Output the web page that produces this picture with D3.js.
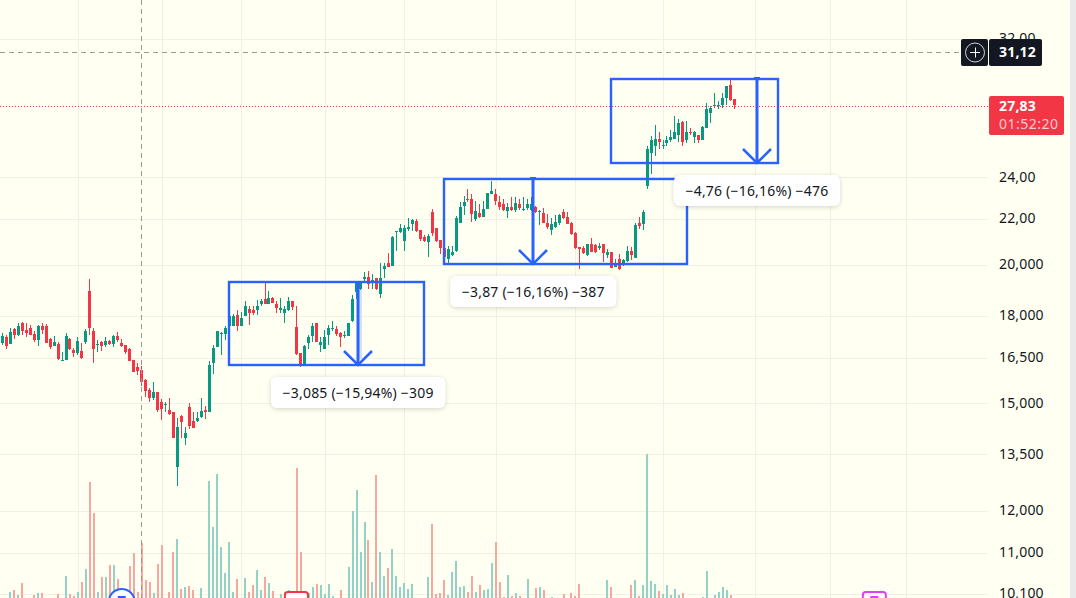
<!DOCTYPE html>
<html><head><meta charset="utf-8">
<style>html,body{margin:0;padding:0;background:#fffff2;overflow:hidden}svg{display:block}text{font-family:"Noto Sans",Roboto,sans-serif}</style>
<script src="https://d3js.org/d3.v7.min.js"></script></head><body><div id="c"></div>
<script>
const opens=[16.99,17.20,16.96,17.50,17.28,17.72,17.46,17.53,17.31,17.10,17.60,17.60,17.13,16.89,16.96,16.37,16.40,17.13,16.75,16.64,16.71,17.03,18.94,17.42,16.92,17.03,16.92,17.06,16.96,17.24,16.99,16.92,16.78,16.40,16.17,16.07,15.74,15.41,15.16,15.35,15.03,14.94,14.78,14.72,13.13,14.60,13.94,14.88,14.45,14.45,14.57,14.78,14.72,16.30,16.85,17.31,17.31,17.60,17.60,18.01,17.60,17.98,18.24,18.20,18.20,18.43,18.63,18.43,18.66,18.43,18.20,18.09,18.20,18.55,17.57,16.64,16.27,16.99,17.24,17.72,16.92,16.78,17.28,17.50,17.50,17.35,17.24,17.24,17.79,18.90,19.01,19.41,19.49,19.33,19.45,18.82,19.82,20.07,19.95,21.41,21.41,21.01,21.54,21.76,21.90,21.49,21.19,20.97,22.31,21.58,21.05,20.71,20.24,20.41,20.58,21.81,22.59,22.92,22.92,21.99,22.27,22.08,22.45,23.16,23.16,22.78,22.69,22.36,22.55,22.41,22.69,22.41,22.50,22.41,22.55,22.31,22.27,21.81,21.49,21.63,21.81,22.31,22.08,21.81,21.36,20.75,20.71,20.41,20.88,20.84,20.71,20.88,20.41,20.54,19.90,20.24,19.99,20.15,20.58,20.28,21.81,21.76,23.55,25.23,25.60,25.97,25.55,25.71,25.87,25.97,26.19,26.90,25.87,26.35,26.08,26.19,25.87,26.57,27.41,27.76,27.76,27.87,28.28,29.00,28.22];
const highs=[17.35,17.28,17.53,17.53,17.72,17.75,17.72,17.64,17.42,17.64,17.72,17.68,17.17,17.24,17.03,16.68,17.35,17.17,16.82,17.20,16.99,17.50,19.41,17.53,17.10,17.06,17.20,17.10,17.28,17.38,17.13,16.92,16.82,16.40,16.30,16.20,15.77,15.48,15.67,15.35,15.13,15.03,15.16,14.72,14.54,14.63,14.27,15.00,14.72,14.72,15.16,14.91,16.37,16.92,17.42,17.38,17.60,18.09,18.05,18.20,18.12,18.55,18.35,18.35,18.59,18.63,19.29,18.94,18.70,18.55,18.66,18.35,18.70,18.55,18.35,16.64,16.92,17.28,17.72,17.72,17.20,17.46,17.64,17.79,17.60,17.38,17.42,17.72,18.78,19.33,19.33,19.70,19.74,19.62,19.45,20.07,20.07,20.50,21.23,21.45,21.76,21.72,22.04,21.99,21.99,21.49,21.27,21.32,22.45,21.58,21.05,20.79,20.79,20.79,22.13,22.78,23.07,23.40,23.16,22.83,22.69,22.83,23.21,23.80,23.40,23.07,22.92,22.74,23.02,23.02,22.92,23.02,22.92,23.02,22.59,22.41,22.50,22.22,22.04,22.17,22.22,22.45,22.31,21.86,21.41,20.75,20.79,20.88,21.14,20.88,20.92,20.88,20.67,20.54,20.24,20.45,20.24,20.79,20.75,21.81,22.08,22.41,25.60,26.13,26.74,26.35,25.87,26.13,26.46,27.19,27.07,26.96,26.96,26.57,26.41,26.19,26.68,27.99,27.76,28.52,28.05,28.52,28.94,29.30,28.22];
const lows=[16.92,16.78,16.96,17.13,17.24,17.28,17.20,17.28,17.03,16.89,17.31,16.99,16.78,16.89,16.40,16.37,16.40,16.75,16.51,16.57,16.44,16.96,17.28,16.30,16.68,16.71,16.85,16.92,16.85,17.03,16.85,16.61,16.37,16.00,15.90,15.54,15.19,15.03,15.10,14.72,14.48,14.72,14.63,13.94,12.62,13.94,13.74,14.21,14.24,14.42,14.54,14.51,14.72,15.93,16.85,16.57,17.10,17.42,17.60,17.42,17.60,17.98,17.64,18.01,18.01,18.35,18.43,18.43,18.47,18.09,18.09,17.72,18.16,18.20,16.57,16.17,16.27,16.78,17.03,17.03,16.68,16.78,16.92,17.42,17.24,16.85,17.17,17.24,17.75,18.63,18.74,19.29,19.01,19.01,18.97,18.66,19.45,19.90,19.95,20.58,21.36,20.58,21.45,21.45,21.41,21.01,20.97,20.32,21.23,20.97,20.45,20.15,20.07,20.37,20.54,21.81,22.17,22.78,21.86,21.90,22.04,22.08,22.45,23.16,22.64,22.41,22.36,22.04,22.36,22.31,22.41,22.36,22.41,22.36,22.27,21.72,21.81,21.54,21.27,21.58,21.72,21.99,21.76,21.27,20.67,19.82,20.45,20.37,20.54,20.50,20.62,20.11,20.28,19.86,19.90,19.78,19.95,20.11,20.19,20.28,21.54,21.49,23.40,24.15,25.07,25.44,25.44,25.55,25.81,25.97,25.81,25.60,25.76,26.19,25.71,25.71,25.87,26.57,26.85,27.70,27.59,27.70,27.87,28.05,27.59];
const closes=[17.24,16.89,17.38,17.28,17.60,17.42,17.35,17.28,17.10,17.60,17.46,16.99,16.85,17.03,16.44,16.40,17.24,16.78,16.64,17.06,16.47,17.42,17.53,16.78,16.96,16.89,17.06,16.96,17.24,17.10,16.89,16.68,16.37,16.00,16.03,15.67,15.38,15.16,15.35,14.78,14.81,14.97,14.66,13.94,14.27,14.42,14.09,14.30,14.24,14.54,14.75,14.72,16.24,16.82,17.42,17.35,17.53,17.98,17.98,17.60,17.90,18.35,18.09,18.09,18.35,18.55,18.43,18.66,18.47,18.28,18.28,18.24,18.55,18.31,16.61,16.24,16.89,17.20,17.60,17.03,17.03,17.20,17.53,17.53,17.31,17.20,17.28,17.72,18.63,19.33,19.29,19.49,19.21,19.37,19.01,19.45,19.95,19.90,21.19,21.45,21.58,21.58,21.63,21.95,21.45,21.10,21.01,21.23,21.36,21.01,20.71,20.32,20.67,20.54,22.04,22.55,22.78,22.87,22.22,22.36,22.08,22.45,23.21,23.31,22.83,22.55,22.41,22.55,22.41,22.74,22.50,22.45,22.69,22.69,22.31,22.36,21.81,21.63,21.76,21.86,22.17,22.04,21.76,21.32,20.71,20.67,20.50,20.88,20.54,20.54,20.79,20.50,20.54,19.86,20.03,19.82,20.19,20.58,20.41,21.72,21.67,22.31,25.39,25.92,25.97,25.81,25.65,25.92,26.03,26.35,26.85,25.81,26.35,26.30,26.35,25.87,26.63,27.59,27.70,27.87,27.87,28.28,28.94,28.11,27.83];
const volumes=[0,0,6,8,3,15,0,0,3,5,5,0,0,0,4,0,22,4,2,6,16,29,116,85,6,21,21,33,33,19,8,8,32,45,6,55,18,16,5,34,53,0,6,46,59,9,11,12,8,0,10,0,117,71,124,51,25,56,6,19,0,20,6,13,28,8,21,15,7,0,4,6,8,6,130,46,6,5,11,14,13,4,14,2,0,8,0,31,87,108,46,76,58,16,123,46,22,30,49,22,11,15,9,14,0,0,0,21,74,4,5,18,3,26,37,11,12,6,22,6,13,8,9,35,56,16,1,23,2,5,2,0,19,0,10,11,8,0,1,0,0,4,0,5,2,14,0,0,0,0,0,0,18,11,0,0,0,0,13,18,2,13,144,17,14,7,4,13,3,9,3,5,0,0,0,0,1,27,0,3,6,11,8,3,0];
const priceTicks=[32,24,22,20,18,16.5,15,13.5,12,11,10.1];
const priceTickLabels=["32,00","24,00","22,00","20,000","18,000","16,500","15,000","13,500","12,000","11,000","10,100"];
const timeGridIndex=[19,40,60,81,101,124,144,166,189,208,227];
const lastPrice=27.83, crossPrice=31.12, crossIndex=34.8, countdown="01:52:20";
const measureStart=[57,111,153], measureEnd=[106,172,195], measureArrow=[89.4,133.4,189.6];
const measureTop=[19.28,23.87,29.40], measureBottom=[16.22,20.00,24.68];
const measureText=["\u22123,085 (\u221215,94%) \u2212309","\u22123,87 (\u221216,16%) \u2212387","\u22124,76 (\u221216,16%) \u2212476"];
const eventIndex=[30,73.9,219.1];

const W=1076,H=598,UP="#089981",DOWN="#f23645",BLUE="#2962ff",BG="#fffff2",GRID="#f0f0e5";
const x=d3.scaleLinear().domain([0,184]).range([2.33,734.65]);
const y=d3.scaleLog().domain([24,10.1]).range([176.6,593.5]);
const v=d3.scaleLinear().domain([0,150]).range([598,448]);
const idx=d3.range(opens.length);
const svg=d3.select("#c").append("svg").attr("width",W).attr("height",H);
svg.append("rect").attr("width",W).attr("height",H).attr("fill",BG);
svg.append("rect").attr("x",1070).attr("width",6).attr("height",H).attr("fill","#e9e9e9");
const plot=svg.append("g").attr("shape-rendering","crispEdges");
plot.selectAll(".gh").data(priceTicks).join("line").attr("x1",0).attr("x2",988)
 .attr("y1",d=>Math.ceil(y(d))+.5).attr("y2",d=>Math.ceil(y(d))+.5).attr("stroke",GRID);
plot.selectAll(".gv").data(timeGridIndex).join("line").attr("x1",d=>Math.round(x(d))+.5).attr("x2",d=>Math.round(x(d))+.5)
 .attr("y1",0).attr("y2",H).attr("stroke",GRID);
const up=i=>closes[i]>=opens[i];
plot.selectAll(".vol").data(idx.filter(i=>volumes[i]>0)).join("rect")
 .attr("x",i=>Math.round(x(i)-1)).attr("width",2).attr("y",i=>v(volumes[i])).attr("height",i=>v(0)-v(volumes[i]))
 .attr("fill",i=>up(i)?"#92d3c5":"#f9a6a0");
plot.selectAll(".wick").data(idx).join("rect")
 .attr("x",i=>Math.round(x(i)-.5)).attr("width",1).attr("y",i=>y(highs[i])).attr("height",i=>y(lows[i])-y(highs[i]))
 .attr("fill",i=>up(i)?UP:DOWN);
plot.selectAll(".body").data(idx).join("rect")
 .attr("x",i=>Math.round(x(i)-.5)-1).attr("width",3).attr("y",i=>y(Math.max(opens[i],closes[i])))
 .attr("height",i=>Math.max(1,Math.abs(y(opens[i])-y(closes[i]))))
 .attr("fill",i=>up(i)?UP:DOWN);
// event markers
const ev=svg.append("g");
ev.append("circle").attr("cx",x(eventIndex[0])).attr("cy",602).attr("r",13).attr("fill","#fff").attr("stroke",BLUE).attr("stroke-width",2);
ev.append("rect").attr("x",x(eventIndex[0])-4).attr("y",596).attr("width",8).attr("height",2).attr("fill",BLUE);
ev.append("rect").attr("x",x(eventIndex[1])-11.5).attr("y",592).attr("width",23).attr("height",16).attr("rx",3).attr("fill","#fff").attr("stroke",DOWN).attr("stroke-width",2);
ev.append("rect").attr("x",x(eventIndex[2])-11.5).attr("y",592).attr("width",23).attr("height",16).attr("rx",3).attr("fill","#fff").attr("stroke","#e040fb").attr("stroke-width",2);
ev.append("rect").attr("x",x(eventIndex[2])-4).attr("y",596).attr("width",8).attr("height",2).attr("fill","#e040fb");
// price line + crosshair
svg.append("line").attr("x1",0).attr("x2",990).attr("y1",Math.ceil(y(lastPrice))+.5).attr("y2",Math.ceil(y(lastPrice))+.5)
 .attr("stroke",DOWN).attr("stroke-dasharray","1 2").attr("shape-rendering","crispEdges");
svg.append("line").attr("x1",0).attr("x2",960).attr("y1",Math.ceil(y(crossPrice))+.5).attr("y2",Math.ceil(y(crossPrice))+.5)
 .attr("stroke","#9a9a94").attr("stroke-dasharray","5 4");
svg.append("line").attr("y1",0).attr("y2",H).attr("x1",Math.round(x(crossIndex))+.5).attr("x2",Math.round(x(crossIndex))+.5)
 .attr("stroke","#9a9a94").attr("stroke-dasharray","5 4");
// measure tools
const m=svg.append("g");
measureStart.forEach((s,k)=>{
 const x0=Math.round(x(s)),x1=Math.round(x(measureEnd[k])),t=Math.round(y(measureTop[k])),b=Math.round(y(measureBottom[k])),a=Math.round(x(measureArrow[k]));
 if(k===0)m.append("rect").attr("x",a+1).attr("y",t+8).attr("width",3).attr("height",b-t-14).attr("fill","#d6e2fb");
 m.append("rect").attr("x",x0).attr("y",t).attr("width",x1-x0).attr("height",b-t).attr("fill","none").attr("stroke",BLUE).attr("stroke-width",2.4);
 m.append("line").attr("x1",a).attr("x2",a).attr("y1",t).attr("y2",b).attr("stroke",BLUE).attr("stroke-width",3);
 if(k>0)m.append("line").attr("x1",a-3).attr("x2",a+3).attr("y1",t-1).attr("y2",t-1).attr("stroke",BLUE).attr("stroke-width",2);
 m.append("path").attr("d",d3.line()([[a-14,b-14],[a,b],[a+14,b-14]])).attr("fill","none").attr("stroke",BLUE).attr("stroke-width",2.5);
});
const defs=svg.append("defs").append("filter").attr("id","sh").attr("x","-20%").attr("y","-40%").attr("width","140%").attr("height","180%");
defs.append("feDropShadow").attr("dx",0).attr("dy",1).attr("stdDeviation",2.5).attr("flood-color","#000").attr("flood-opacity",.18);
measureText.forEach((s,k)=>{
 const a=x(measureArrow[k]),b=Math.round(y(measureBottom[k]));
 const g=svg.append("g");
 const r=g.append("rect").attr("y",b+12).attr("height",31).attr("rx",6).attr("fill","#fff").attr("filter","url(#sh)");
 const t=g.append("text").text(s).attr("x",a).attr("y",b+33).attr("text-anchor","middle").attr("font-size",14).attr("letter-spacing",.2).attr("fill","#131722");
 const w=t.node().getComputedTextLength()+23;
 r.attr("x",a-w/2).attr("width",w);
});
// price axis
const axis=d3.axisRight(y).tickValues(priceTicks).tickSize(0).tickPadding(0).tickFormat((d,i)=>priceTickLabels[i]);
const ag=svg.append("g").attr("transform","translate(999,0)").call(axis);
ag.select(".domain").remove();
ag.selectAll("text").attr("font-size",14).attr("letter-spacing",.15).attr("fill","#131722").style("font-family",'"Noto Sans",Roboto,sans-serif');
// labels
const cy=Math.ceil(y(crossPrice));
svg.append("rect").attr("x",961).attr("y",cy-13).attr("width",27).attr("height",27).attr("rx",2).attr("fill","#131722");
svg.append("rect").attr("x",989).attr("y",cy-13).attr("width",53).attr("height",27).attr("rx",2).attr("fill","#131722");
svg.append("circle").attr("cx",975).attr("cy",cy+.5).attr("r",9.5).attr("fill","none").attr("stroke","#d1d4dc");
svg.append("path").attr("d",`M970,${cy+.5}H980M975.5,${cy-4.5}V${cy+5.5}`).attr("stroke","#fff").attr("fill","none");
svg.append("text").text(String(crossPrice).replace(".",",")).attr("x",999).attr("y",cy+5).attr("font-size",14).attr("font-weight",700).attr("letter-spacing",.2).attr("fill","#fff");
svg.append("rect").attr("x",989).attr("y",96).attr("width",75).attr("height",39).attr("rx",2).attr("fill",DOWN);
svg.append("text").text(String(lastPrice).replace(".",",")).attr("x",999).attr("y",111).attr("font-size",14).attr("font-weight",700).attr("letter-spacing",.2).attr("fill","#fff");
svg.append("text").text(countdown).attr("x",999).attr("y",129).attr("font-size",14).attr("letter-spacing",.5).attr("fill","#fff").attr("fill-opacity",.75);
</script></body></html>
